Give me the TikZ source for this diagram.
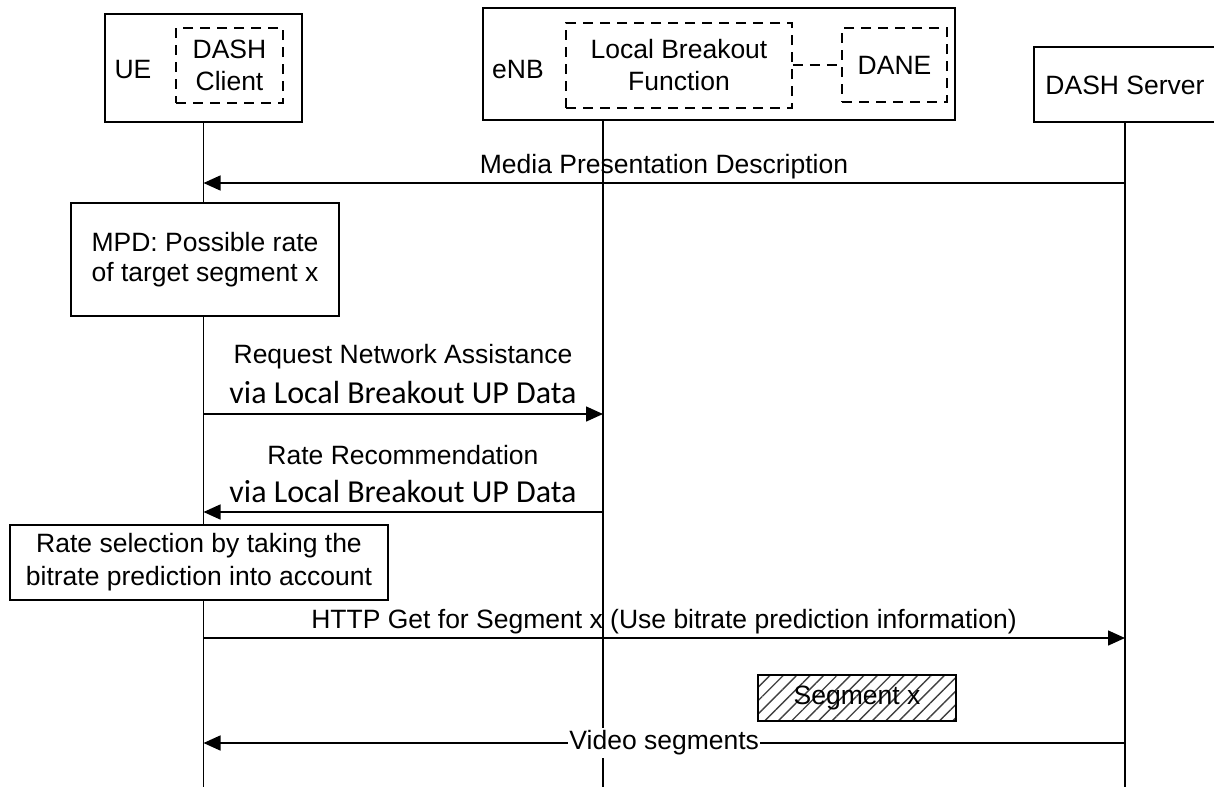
\documentclass[tikz,border=0pt]{standalone}
\usepackage{fontspec}
\setmainfont{Liberation Sans}
\newfontfamily\calibrifont{Carlito}
\usetikzlibrary{arrows.meta,patterns.meta}
\begin{document}
\begin{tikzpicture}[x=1pt,y=-1pt,
  every node/.style={font=\fontsize{26.5}{32}\selectfont, inner sep=0pt},
  box/.style={draw, line width=1.5pt, fill=white, align=center},
  dbox/.style={draw, line width=1.5pt, dash pattern=on 10pt off 7pt, align=center},
  life/.style={line width=1.6pt},
  msg/.style={line width=1.5pt, -{Triangle[length=17pt,width=15pt]}},
  via/.style={font=\calibrifont\fontsize{32}{38}\selectfont}
]
\useasboundingbox (0,0) rectangle (1214,787);
% heads
\node[box, minimum width=197pt, minimum height=108pt] (ue) at (203.5,68) {};
\node (uel) at (133,70) {UE};
\node[dbox, minimum width=107pt, minimum height=75pt] (dc) at (229.5,65.5) {DASH\\Client};
\node[box, minimum width=472pt, minimum height=112pt] (enb) at (719,64) {};
\node (enbl) at (518,70) {eNB};
\node[dbox, minimum width=226pt, minimum height=85pt] (lbf) at (679,65.5) {Local Breakout\\Function};
\node[dbox, minimum width=105pt, minimum height=74pt] (dane) at (894.5,65) {DANE};
\draw[line width=1.5pt, dash pattern=on 10pt off 7pt] (lbf.east |- dane.west) -- (dane.west);
\node[box, minimum width=182pt, minimum height=75pt] (srv) at (1125,84.5) {};
\node (srvl) at (1125,85) {DASH Server};
% y levels
\coordinate (bot) at (0,787);
\coordinate (y1) at (0,183);
\coordinate (y2) at (0,414);
\coordinate (y3) at (0,512);
\coordinate (y4) at (0,638);
\coordinate (y5) at (0,743);
% lifelines
\draw[life] (ue.south) -- (ue.south |- bot);
\draw[life] (enb.south -| 603,0) coordinate (enbs) -- (enbs |- bot);
\draw[life] (srv.south) -- (srv.south |- bot);
% messages
\draw[msg] (srv.south |- y1) -- (ue.south |- y1);
\node (m1) at (664,167) {Media Presentation Description};
\node[box, minimum width=268pt, minimum height=113pt, font=\fontsize{26.5}{30}\selectfont] (mpd) at (205,259.5) {MPD: Possible rate\\of target segment x};
\draw[msg] (ue.south |- y2) -- (enbs |- y2);
\node (m2a) at (403,357) {Request Network Assistance};
\node[via] (m2b) at (403,393) {via Local Breakout UP Data};
\draw[msg] (enbs |- y3) -- (ue.south |- y3);
\node (m3a) at (403,455) {Rate Recommendation};
\node[via] (m3b) at (403,491) {via Local Breakout UP Data};
\node[box, minimum width=378pt, minimum height=75pt, font=\fontsize{26.5}{33}\selectfont] (rs) at (199,562.5) {Rate selection by taking the\\bitrate prediction into account};
\draw[msg] (ue.south |- y4) -- (srv.south |- y4);
\node (m4) at (664,622) {HTTP Get for Segment x (Use bitrate prediction information)};
\node[draw, line width=1.5pt, minimum width=198pt, minimum height=46pt,
  pattern={Lines[angle=45,distance=9.5pt,line width=1.4pt]}, pattern color=black!75] (seg) at (857,698) {Segment x};
\draw[msg] (srv.south |- y5) -- (ue.south |- y5) node[midway, fill=white, inner xsep=1pt, inner ysep=3pt] (m5) {Video segments};
\end{tikzpicture}
\end{document}
